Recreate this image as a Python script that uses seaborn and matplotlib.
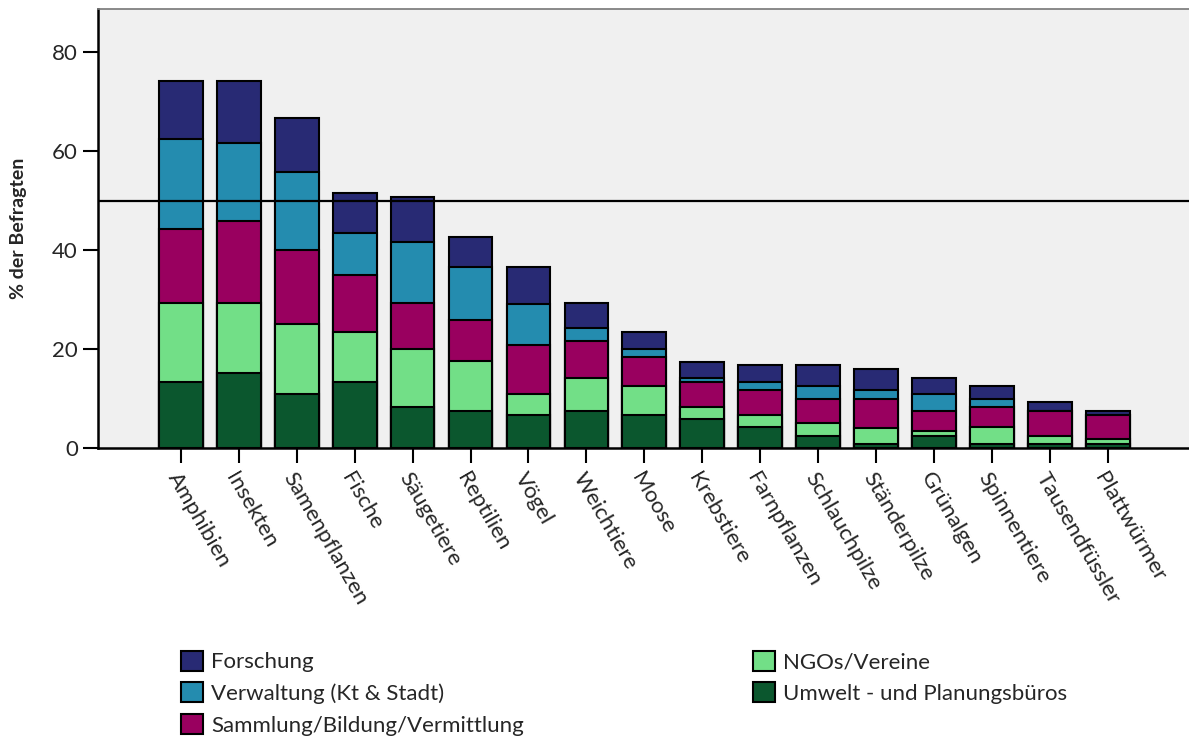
import pandas as pd
import numpy as np
import seaborn as sns
import matplotlib.pyplot as plt
from matplotlib.patches import Patch

arten = ["Amphibien", "Insekten", "Samenpflanzen", "Fische", "Säugetiere", "Reptilien",
         "Vögel", "Weichtiere", "Moose", "Krebstiere", "Farnpflanzen", "Schlauchpilze",
         "Ständerpilze", "Grünalgen", "Spinnentiere", "Tausendfüssler", "Plattwürmer"]

# % der Befragten je Gruppe (gestapelt von unten nach oben)
umwelt = [13.4, 15.1, 10.9, 13.4, 8.3, 7.5, 6.7, 7.5, 6.7, 5.9, 4.2, 2.5, 0.9, 2.5, 0.9, 0.9, 0.9]
ngo = [15.8, 14.1, 14.1, 10.0, 11.7, 10.1, 4.2, 6.6, 5.9, 2.4, 2.5, 2.6, 3.2, 0.9, 3.3, 1.6, 0.9]
sammlung = [15.0, 16.7, 15.0, 11.6, 9.2, 8.3, 9.9, 7.6, 5.8, 5.1, 5.0, 4.9, 5.9, 4.1, 4.1, 5.0, 4.9]
verwaltung = [18.2, 15.8, 15.8, 8.4, 12.5, 10.7, 8.3, 2.5, 1.6, 0.7, 1.7, 2.6, 1.7, 3.4, 1.6, 0.0, 0.0]
forschung = [11.8, 12.5, 10.8, 8.2, 9.1, 6.0, 7.5, 5.0, 3.4, 3.3, 3.4, 4.2, 4.2, 3.3, 2.7, 1.7, 0.8]

gruppen = ["Umwelt - und Planungsbüros", "NGOs/Vereine", "Sammlung/Bildung/Vermittlung",
           "Verwaltung (Kt & Stadt)", "Forschung"]
farben = ["#0b572e", "#72df87", "#99005f", "#248caf", "#282a74"]

df = pd.DataFrame({"Art": arten})
for g, vals in zip(gruppen, [umwelt, ngo, sammlung, verwaltung, forschung]):
    df[g] = vals
cum = df[gruppen].cumsum(axis=1)
cum["Art"] = df["Art"]

sns.set_style("white")
plt.rcParams["font.family"] = ["Lato", "DejaVu Sans"]

fig = plt.figure(figsize=(11.89, 7.38), dpi=100)
ax = fig.add_axes([98 / 1189, 290 / 738, 1 - 98 / 1189, 439 / 738])
ax.set_facecolor("#f0f0f0")

# tallest stack first, then overlay the lower parts
for g, col in reversed(list(zip(gruppen, farben))):
    sns.barplot(cum, x="Art", y=g, color=col, saturation=1, width=0.755,
                edgecolor="black", linewidth=1.5, errorbar=None, ax=ax, zorder=2)

ax.axhline(50, color="black", linewidth=1.6, zorder=3)

ax.set_xlim(-1.43, 17.4)
ax.set_ylim(0, 88.7)
ax.set_yticks([0, 20, 40, 60, 80])
ax.set_xticks(range(len(arten)))
ax.set_xticklabels(arten, rotation=-60, ha="left", va="top", rotation_mode="anchor")
ax.tick_params(axis="both", direction="out", length=11, width=1.5, labelsize=16,
               color="black", bottom=True, left=True)
ax.tick_params(axis="x", pad=4)
ax.set_xlabel("")
ax.set_ylabel("% der Befragten", fontsize=14, fontweight="bold", labelpad=18)

for s in ["left", "bottom"]:
    ax.spines[s].set_color("black")
    ax.spines[s].set_linewidth(1.8)
ax.spines["right"].set_visible(False)
ax.spines["top"].set_color("#777777")
ax.spines["top"].set_linewidth(1.2)

leg_order = ["Forschung", "Verwaltung (Kt & Stadt)", "Sammlung/Bildung/Vermittlung",
             "NGOs/Vereine", "Umwelt - und Planungsbüros"]
farbe_von = dict(zip(gruppen, farben))
handles = [Patch(facecolor=farbe_von[g], edgecolor="black", linewidth=1.5) for g in leg_order]
fig.legend(handles, leg_order, ncol=2, frameon=False, fontsize=16,
           loc="upper left", bbox_to_anchor=(172 / 1189, 1 - 642 / 738),
           handlelength=1.0, handleheight=1.0, handletextpad=0.35,
           labelspacing=0.45, columnspacing=10.3, borderaxespad=0)

fig.savefig("out.png", dpi=100)
